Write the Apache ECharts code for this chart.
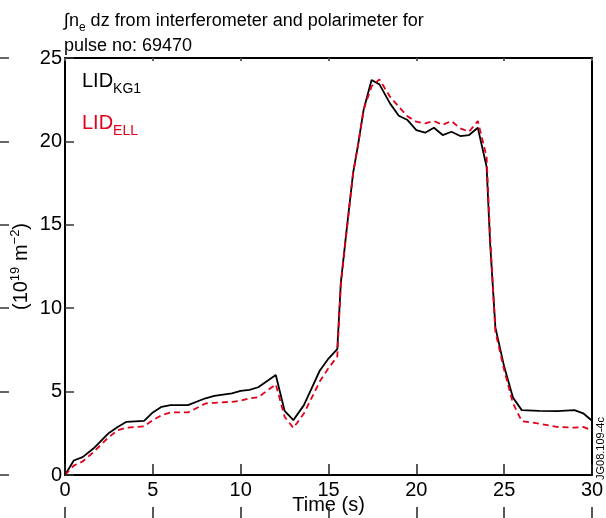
<!DOCTYPE html>
<html>
<head>
<meta charset="utf-8">
<script src="https://cdn.jsdelivr.net/npm/echarts@6/dist/echarts.min.js"></script>
<style>html,body{margin:0;padding:0;background:#fff}#c{width:606px;height:518px}</style>
</head>
<body>
<div id="c"></div>
<script>
var times = [0,0.5,1.0,1.6,2.5,3.0,3.5,4.5,5.0,5.5,6.0,7.0,8.0,8.5,9.5,10.0,10.5,11.0,12.0,12.5,13.0,13.6,14.5,15.0,15.5,15.7,16.0,16.4,16.7,17.0,17.45,17.9,18.5,19.0,19.5,20.0,20.5,21.0,21.5,22.0,22.5,23.0,23.5,24.0,24.2,24.5,25.0,25.5,26.0,27.0,28.0,29.0,29.5,30.0];
var lidKG1 = [0,0.87,1.07,1.57,2.52,2.88,3.19,3.25,3.75,4.09,4.19,4.19,4.6,4.74,4.9,5.04,5.1,5.26,6.0,3.85,3.29,4.19,6.25,6.98,7.55,11.5,14.4,18.1,19.9,21.9,23.68,23.42,22.28,21.54,21.28,20.68,20.52,20.82,20.38,20.58,20.32,20.38,20.82,18.48,13.9,8.85,6.5,4.65,3.89,3.85,3.83,3.89,3.7,3.25];
var lidELL = [0,0.56,0.81,1.35,2.28,2.68,2.84,2.92,3.29,3.59,3.75,3.75,4.29,4.33,4.39,4.45,4.6,4.66,5.44,3.49,2.82,3.69,5.6,6.41,7.1,11.4,14.3,18.1,19.9,21.9,23.3,23.72,22.68,22.08,21.5,21.18,21.08,21.22,21.0,21.22,20.78,20.58,21.22,19.08,14.3,8.6,6.3,4.3,3.23,3.08,2.88,2.84,2.88,2.68];
var xTicks = [0,5,10,15,20,25,30];
var yTicks = [0,5,10,15,20,25];

function zip(t, v){ return t.map(function(x,i){ return [x, v[i]]; }); }
var FONT = '"Liberation Sans", Arial, Helvetica, sans-serif';
var RED = '#e2001a';
var XMIN = xTicks[0], XMAX = xTicks[xTicks.length-1], YMIN = yTicks[0], YMAX = yTicks[yTicks.length-1];
var GL = 65, GR = 14, GT = 58, GB = 43, W = 606, H = 518;

function hiddenAxis(gi){ return {type: 'value', gridIndex: gi, show: false, min: 0, max: 1}; }
function tickX(gi, pos, len, color){
  return {type: 'value', gridIndex: gi, position: pos, min: XMIN, max: XMAX, interval: 5, z: 10,
    axisLine: {show: false}, axisLabel: {show: false}, splitLine: {show: false},
    axisTick: {show: true, inside: false, length: len, lineStyle: {color: color, width: 1.5}}};
}

var chart = echarts.init(document.getElementById('c'), null, {renderer:'canvas'});
chart.setOption({
  animation: false,
  textStyle: {fontFamily: FONT},
  title: [
    {
      text: '\u222Bn{sub|e} dz from interferometer and polarimeter for\npulse no: 69470',
      left: 64, top: 9, padding: 0,
      textStyle: {
        fontFamily: FONT, fontSize: 18, fontWeight: 'normal', color: '#000', lineHeight: 25,
        rich: {sub: {fontFamily: FONT, fontSize: 12, lineHeight: 14, verticalAlign: 'bottom', color: '#000'}}
      }
    },
    {
      text: 'LID{sub|KG1}',
      left: 82, top: 66, padding: 0,
      textStyle: {
        fontFamily: FONT, fontSize: 20, fontWeight: 'normal', color: '#000', lineHeight: 30,
        rich: {sub: {fontFamily: FONT, fontSize: 14, lineHeight: 16, verticalAlign: 'bottom', color: '#000'}}
      }
    },
    {
      text: 'LID{sub|ELL}',
      left: 82, top: 108, padding: 0,
      textStyle: {
        fontFamily: FONT, fontSize: 20, fontWeight: 'normal', color: RED, lineHeight: 30,
        rich: {sub: {fontFamily: FONT, fontSize: 14, lineHeight: 16, verticalAlign: 'bottom', color: RED}}
      }
    }
  ],
  grid: [
    {left: GL, right: GR, top: GT, bottom: GB, containLabel: false, outerBoundsMode: 'none'},
    {left: 0, width: GL, top: GT, bottom: GB, containLabel: false, outerBoundsMode: 'none'},
    {left: GL, right: GR, top: H - GB, height: GB, containLabel: false, outerBoundsMode: 'none'},
    {left: GL, right: GR, top: 0, height: GT, containLabel: false, outerBoundsMode: 'none'}
  ],
  xAxis: [
    {
      type: 'value', gridIndex: 0, position: 'bottom', min: XMIN, max: XMAX, interval: 5, z: 10,
      name: 'Time (s)', nameLocation: 'middle', nameGap: 20, nameMoveOverlap: false,
      nameTextStyle: {fontFamily: FONT, fontSize: 20, color: '#000'},
      axisLine: {show: true, onZero: false, lineStyle: {color: '#000', width: 2}},
      axisTick: {show: true, inside: true, length: 11, lineStyle: {color: '#222', width: 1.5}},
      axisLabel: {fontFamily: FONT, fontSize: 20, color: '#000', margin: 5},
      splitLine: {show: false}
    },
    {
      type: 'value', gridIndex: 0, position: 'top', min: XMIN, max: XMAX, interval: 5, z: 10,
      axisLine: {show: true, onZero: false, lineStyle: {color: '#000', width: 2}},
      axisTick: {show: true, inside: true, length: 3, lineStyle: {color: '#555', width: 1.5}},
      axisLabel: {show: false}, splitLine: {show: false}
    },
    hiddenAxis(1),
    tickX(2, 'top', 11, '#222'),
    tickX(3, 'bottom', 3, '#555')
  ],
  yAxis: [
    {
      type: 'value', gridIndex: 0, position: 'left', min: YMIN, max: YMAX, interval: 5, z: 10,
      name: '(10{sup|19} m{sup|\u22122})', nameLocation: 'middle', nameGap: 32, nameRotate: 90, nameMoveOverlap: false,
      nameTextStyle: {
        fontFamily: FONT, fontSize: 20, color: '#000', lineHeight: 24,
        rich: {sup: {fontFamily: FONT, fontSize: 13, lineHeight: 14, verticalAlign: 'top', color: '#000'}}
      },
      axisLine: {show: true, onZero: false, lineStyle: {color: '#000', width: 2}},
      axisTick: {show: true, inside: true, length: 9, lineStyle: {color: '#333', width: 1.5}},
      axisLabel: {fontFamily: FONT, fontSize: 20, color: '#000', margin: 3},
      splitLine: {show: false}
    },
    {
      type: 'value', gridIndex: 0, position: 'right', min: YMIN, max: YMAX, interval: 5,
      axisLine: {show: true, onZero: false, lineStyle: {color: '#000', width: 2}},
      axisTick: {show: false}, axisLabel: {show: false}, splitLine: {show: false}
    },
    {
      type: 'value', gridIndex: 1, position: 'right', min: YMIN, max: YMAX, interval: 5, z: 10,
      axisLine: {show: false}, axisLabel: {show: false}, splitLine: {show: false},
      axisTick: {show: true, inside: false, length: 9, lineStyle: {color: '#333', width: 1.5}}
    },
    hiddenAxis(2),
    hiddenAxis(3)
  ],
  series: [
    {
      name: 'LID KG1', type: 'line', xAxisIndex: 0, yAxisIndex: 0, data: zip(times, lidKG1),
      showSymbol: false, symbol: 'none',
      lineStyle: {color: '#000', width: 1.8}, z: 2
    },
    {
      name: 'LID ELL', type: 'line', xAxisIndex: 0, yAxisIndex: 0, data: zip(times, lidELL),
      showSymbol: false, symbol: 'none',
      lineStyle: {color: RED, width: 1.8, type: [6, 4]}, z: 3
    }
  ],
  graphic: [
    {
      type: 'text', x: 601, y: 480, rotation: Math.PI/2,
      style: {text: 'JG08.109-4c', fontFamily: FONT, fontSize: 11, fill: '#000', align: 'left', verticalAlign: 'middle'}
    }
  ]
});
</script>
</body>
</html>
